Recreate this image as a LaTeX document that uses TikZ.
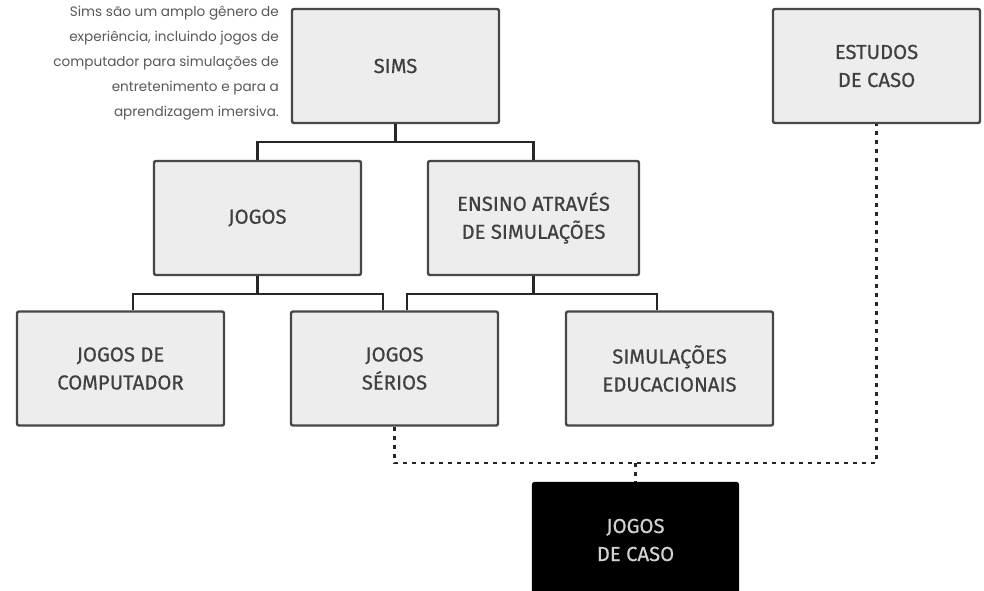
\documentclass[tikz,border=0pt]{standalone}
\usepackage{fontspec}
\setmainfont{Fira Sans}[FakeBold=0.6]
\newfontfamily\notefont{Poppins}
\begin{document}
\begin{tikzpicture}[x=1pt,y=-1pt,
  box/.style={draw=black!72,line width=2.4pt,fill=black!7,rounded corners=2pt,
    minimum width=207pt,minimum height=114pt,inner sep=0pt,align=center,
    text=black!75,font=\fontsize{20.3}{28}\selectfont},
  darkbox/.style={box,fill=black,draw=black,text=black!18},
  link/.style={draw=black!85,line width=2.4pt},
  dotlink/.style={draw=black!85,line width=2.4pt,dash pattern=on 4pt off 5pt},
  note/.style={align=right,anchor=north east,text=black!65,inner sep=0pt,
    font=\notefont\fontsize{13.6}{25}\selectfont}]
\useasboundingbox (0,0) rectangle (984,590);
\fill[white] (0,0) rectangle (984,590);
\node[note] (txt) at (279,6) {Sims são um amplo gênero de\\experiência, incluindo jogos de\\computador para simulações de\\entretenimento e para a\\aprendizagem imersiva.};
\node[box] (sims) at (395.5,66) {SIMS};
\node[box] (estudos) at (876.5,66) {ESTUDOS\\DE CASO};
\node[box] (jogos) at (257.5,218) {JOGOS};
\node[box,minimum width=211pt] (ensino) at (533.5,218) {ENSINO ATRAVÉS\\DE SIMULAÇÕES};
\node[box] (comp) at (120.5,368.5) {JOGOS DE\\COMPUTADOR};
\node[box] (serios) at (394.5,368.5) {JOGOS\\SÉRIOS};
\node[box] (simed) at (669.5,368.5) {SIMULAÇÕES\\EDUCACIONAIS};
\node[darkbox,minimum width=205pt] (caso) at (635.5,540) {JOGOS\\DE CASO};
% tree connectors
\draw[link] (sims.south) -- ++(0,18) -| (jogos.north);
\draw[link] (sims.south) -- ++(0,18) -| (ensino.north);
\draw[link] (jogos.south) -- ++(0,18) -| ([xshift=12.5pt]comp.north);
\draw[link] (jogos.south) -- ++(0,18) -| ([xshift=-11.5pt]serios.north);
\draw[link] (ensino.south) -- ++(0,18) -| ([xshift=12.5pt]serios.north);
\draw[link] (ensino.south) -- ++(0,18) -| ([xshift=-12.5pt]simed.north);
% dotted connectors
\coordinate (m) at (635.5,463);
\draw[dotlink] (serios.south) -- (serios.south |- m) -- (estudos.south |- m) -- (estudos.south);
\draw[dotlink] (caso.north |- m) -- (caso.north);
\end{tikzpicture}
\end{document}
